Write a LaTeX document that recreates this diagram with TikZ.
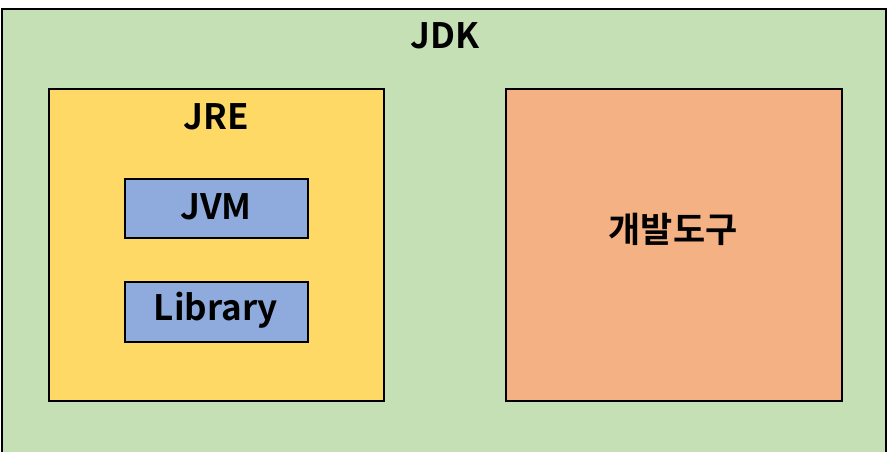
\documentclass[tikz,border=0pt]{standalone}
\usepackage{fontspec}
\setmainfont{Noto Sans CJK KR}[BoldFont={Noto Sans CJK KR Bold}]
\definecolor{jdkgreen}{HTML}{C5E0B4}
\definecolor{jreyellow}{HTML}{FFD966}
\definecolor{jvmblue}{HTML}{8FAADC}
\definecolor{toolorange}{HTML}{F4B183}
\begin{document}
\begin{tikzpicture}[x=1pt,y=-1pt,
  box/.style={draw=black,line width=2pt},
  lbl/.style={font=\bfseries\fontsize{35}{38}\selectfont,inner sep=0pt,anchor=center}]
\useasboundingbox (0,0) rectangle (887,452);
\begin{scope}
\clip (0,0) rectangle (887,452);
\draw[box,fill=jdkgreen] (2,9) rectangle (886,460);
\end{scope}
\node[lbl] (jdk) at (445,36) {JDK};
\draw[box,fill=jreyellow] (48.5,89.5) rectangle (383.5,400.5);
\node[lbl] (jre) at (216,117) {JRE};
\draw[box,fill=jvmblue] (124.5,178.5) rectangle (308,237.5);
\node[lbl] (jvm) at (216,207) {JVM};
\draw[box,fill=jvmblue] (124.5,281.5) rectangle (308,341.5);
\node[lbl] (lib) at (216,310) {Library};
\draw[box,fill=toolorange] (505.5,89.5) rectangle (841.5,400.5);
\node[lbl] (tools) at (673,229) {개발도구};
\end{tikzpicture}
\end{document}
